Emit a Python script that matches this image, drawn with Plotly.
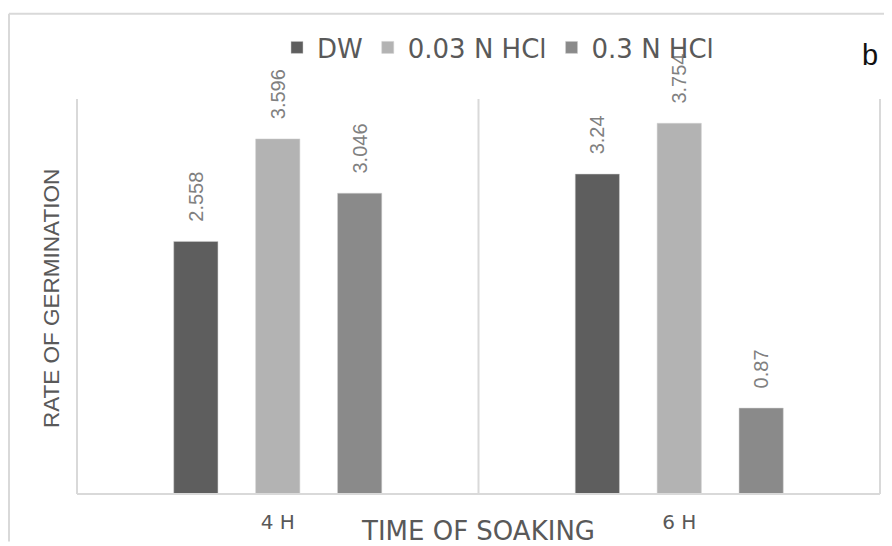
import plotly.graph_objects as go

categories = ["4 H", "6 H"]
series_names = ["DW", "0.03 N HCl", "0.3 N HCl"]
dw_values = [2.558, 3.24]
hcl003_values = [3.596, 3.754]
hcl03_values = [3.046, 0.87]
bar_colors = ["#5e5e5e", "#b3b3b3", "#8a8a8a"]

x_title = "TIME OF SOAKING"
y_title = "RATE OF GERMINATION"
panel_letter = "b"

NB = "\u00a0"
fig = go.Figure()
for name, vals, col in zip(series_names, [dw_values, hcl003_values, hcl03_values], bar_colors):
    fig.add_trace(go.Bar(
        x=categories, y=vals, name=name,
        marker=dict(color=col, line=dict(color="#d0d0d0", width=0.5)),
        text=[NB * 3 + str(v) for v in vals],
        textposition="outside", textangle=-90, cliponaxis=False,
        constraintext="none",
        textfont=dict(family="Liberation Sans, Arial", size=20, color="#808080"),
    ))

# figure is drawn inside the page body (8px default margin): size chosen to fit the window
W, H = 884, 538
ML, MR, MT, MB = 69, 12, 91, 48
pw, ph = W - ML - MR, H - MT - MB


def px(xpix):
    return (xpix - ML) / pw


def py(ypix):
    return (H - MB - ypix) / ph


grid = "#d9d9d9"
shapes = []
for xp in [0, 0.5, 1]:
    shapes.append(dict(type="line", xref="paper", yref="paper", x0=xp, x1=xp, y0=0, y1=1,
                       line=dict(color=grid, width=2)))
shapes.append(dict(type="line", xref="paper", yref="paper", x0=0, x1=1, y0=0, y1=0,
                   line=dict(color=grid, width=2)))
# outer chart border (top and left)
shapes.append(dict(type="line", xref="paper", yref="paper", x0=px(1), x1=px(W), y0=py(5), y1=py(5),
                   line=dict(color=grid, width=2)))
shapes.append(dict(type="line", xref="paper", yref="paper", x0=px(1), x1=px(1), y0=py(H), y1=py(5),
                   line=dict(color=grid, width=2)))

fig.update_layout(
    width=W, height=H,
    margin=dict(l=ML, r=MR, t=MT, b=MB),
    paper_bgcolor="white", plot_bgcolor="white",
    barmode="group", bargap=0.388, bargroupgap=0.46,
    showlegend=True,
    legend=dict(orientation="h", x=px(490), xanchor="center", y=py(39), yanchor="middle",
                font=dict(family="DejaVu Sans", size=26, color="#595959"),
                bgcolor="rgba(0,0,0,0)", itemwidth=30),
    xaxis=dict(showgrid=False, showline=False, ticks="", zeroline=False,
               tickfont=dict(family="DejaVu Sans", size=20, color="#595959"),
               ticklabelstandoff=14),
    yaxis=dict(range=[0, 4], showgrid=False, showline=False, showticklabels=False,
               zeroline=False, ticks=""),
    shapes=shapes,
    annotations=[
        dict(text=x_title, xref="paper", yref="paper", x=px(470), y=py(527), xanchor="center",
             yanchor="middle", showarrow=False,
             font=dict(family="DejaVu Sans", size=26, color="#595959")),
        dict(text=y_title, xref="paper", yref="paper", x=px(44), y=py(293), xanchor="center",
             yanchor="middle", showarrow=False, textangle=-90,
             font=dict(family="Liberation Sans, Arial", size=22.5, color="#595959")),
        dict(text=panel_letter, xref="paper", yref="paper", x=px(862), y=py(47), xanchor="center",
             yanchor="middle", showarrow=False,
             font=dict(family="Liberation Sans, Arial", size=29, color="#111111")),
    ],
)

fig.write_html("out.html")
